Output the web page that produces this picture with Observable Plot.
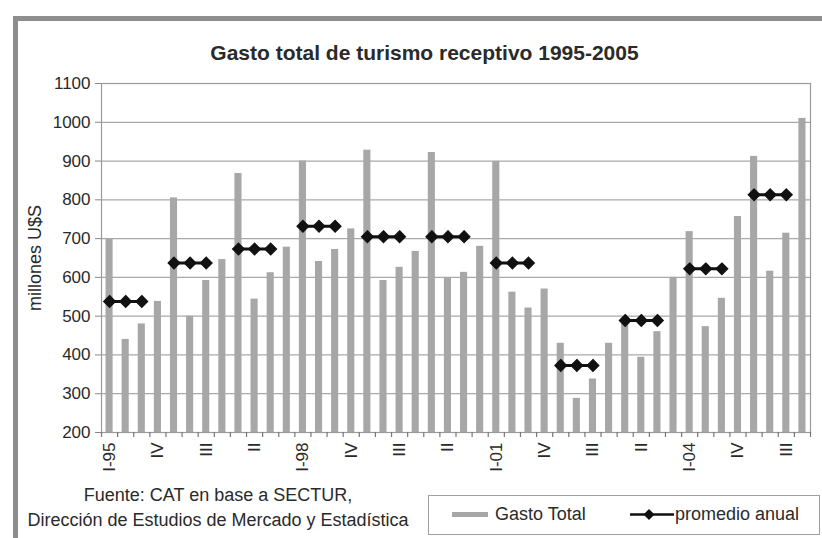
<!DOCTYPE html>
<html>
<head>
<meta charset="utf-8">
<script src="https://cdn.jsdelivr.net/npm/d3@7"></script>
<script src="https://cdn.jsdelivr.net/npm/@observablehq/plot@0.6"></script>
<style>
  html, body { margin: 0; padding: 0; background: #fff; }
  #chart { position: relative; width: 822px; height: 538px; overflow: hidden; background: #fff;
           font-family: "Liberation Sans", Arial, sans-serif; color: #2a2a2a; }
  #frame { position: absolute; left: 13px; top: 16px; width: 900px; height: 700px;
           border-left: 5px solid #8e8e8e; border-top: 5px solid #8e8e8e; box-sizing: border-box; }
  #title { position: absolute; left: 0; top: 40px; width: 822px; padding-left: 27px; box-sizing: border-box;
           text-align: center; font-weight: bold; font-size: 21px; line-height: 26px; }
  #plot { position: absolute; left: 0; top: 66px; }
  #source { position: absolute; left: 18px; top: 483px; width: 400px; text-align: center;
            font-size: 18px; line-height: 25px; }
  #legend { position: absolute; left: 428px; top: 495px; width: 392px; height: 40px; box-sizing: border-box;
            border: 1.5px solid #a0a0a0; background: #fff; font-size: 18px; }
  .lg { position: absolute; top: 0; height: 37px; line-height: 37px; white-space: nowrap; }
</style>
</head>
<body>
<div id="chart">
  <div id="frame"></div>
  <div id="title"></div>
  <div id="plot"></div>
  <div id="source"></div>
  <div id="legend"></div>
</div>
<script>
// ---- data ----
const chartTitle = "Gasto total de turismo receptivo 1995-2005";
const yLabel = "millones U$S";
const sourceLines = ["Fuente: CAT en base a SECTUR,", "Dirección de Estudios de Mercado y Estadística"];
const seriesNames = ["Gasto Total", "promedio anual"];

const years = [1995, 1996, 1997, 1998, 1999, 2000, 2001, 2002, 2003, 2004, 2005];
const quarters = ["I", "II", "III", "IV"];
const gastoTotal = [
  700, 440, 480, 538,
  805, 500, 592, 646,
  868, 544, 612, 678,
  900, 641, 672, 725,
  928, 592, 626, 667,
  922, 599, 613, 680,
  899, 562, 521, 570,
  430, 288, 338, 430,
  495, 394, 460, 600,
  718, 473, 546, 757,
  912, 616, 714, 1010
];
const promedioAnual = [538, 637, 673, 732, 705, 705, 637, 373, 489, 622, 813];
const xTickLabels = ["I-95", "IV", "III", "II", "I-98", "IV", "III", "II", "I-01", "IV", "III", "II", "I-04", "IV", "III"];
const xTickEvery = 3;
const yTicks = [200, 300, 400, 500, 600, 700, 800, 900, 1000, 1100];

// ---- derived tables ----
const bars = gastoTotal.map((v, i) => ({i, year: years[Math.floor(i / 4)], q: quarters[i % 4], v}));
const avgPts = promedioAnual.flatMap((v, k) => [0, 1, 2].map(q => ({i: k * 4 + q, year: years[k], v})));
const labelTicks = xTickLabels.map((_, k) => k * xTickEvery);
const boundaryTicks = d3.range(-0.5, gastoTotal.length, 1);

const barColor = "#a7a7a7";
const lineColor = "#111";

const chart = Plot.plot({
  width: 822,
  height: 410,
  marginLeft: 101,
  marginRight: 12,
  marginTop: 17,
  marginBottom: 44,
  style: {fontFamily: '"Liberation Sans", Arial, sans-serif', fontSize: "17px", color: "#2a2a2a", background: "transparent"},
  x: {type: "linear", domain: [-0.5, gastoTotal.length - 0.5]},
  y: {domain: [yTicks[0], yTicks[yTicks.length - 1]]},
  marks: [
    Plot.gridY(yTicks, {stroke: "#a9a9a9", strokeOpacity: 1, strokeWidth: 1.2}),
    Plot.rectY(bars, {x1: d => d.i - 0.5, x2: d => d.i + 0.5, y1: yTicks[0], y2: "v", fill: barColor, insetLeft: 4.5, insetRight: 4.5}),
    Plot.frame({stroke: "#9a9a9a", strokeWidth: 1.2}),
    Plot.axisY(yTicks, {tickSize: 6, tickPadding: 5, stroke: "#888", label: null, fontSize: 17, tickFormat: d => String(d)}),
    Plot.axisX(boundaryTicks, {tickSize: 5, tickFormat: () => "", stroke: "#777", strokeWidth: 1.2, label: null}),
    Plot.axisX(labelTicks, {tickSize: 0, tickPadding: 10, tickRotate: -90, tickFormat: d => xTickLabels[d / xTickEvery], label: null, fontSize: 17}),
    Plot.line(avgPts, {x: "i", y: "v", z: "year", stroke: lineColor, strokeWidth: 3}),
    Plot.dot(avgPts, {x: "i", y: "v", symbol: "diamond2", r: 5.3, fill: lineColor, stroke: lineColor, strokeWidth: 1.2}),
    Plot.text([yLabel], {frameAnchor: "left", dx: -66.5, rotate: -90, textAnchor: "middle", fontSize: 18, fill: "#2a2a2a"})
  ]
});
document.getElementById("plot").appendChild(chart);

document.getElementById("title").textContent = chartTitle;
document.getElementById("source").innerHTML = sourceLines.map(s => `<div>${s}</div>`).join("");

const legend = document.getElementById("legend");
legend.innerHTML = `
  <div class="lg" style="left:23px"><svg width="36" height="37" style="vertical-align:top"><rect x="0" y="16" width="36" height="5" fill="${barColor}"/></svg></div>
  <div class="lg" style="left:66px">${seriesNames[0]}</div>
  <div class="lg" style="left:201px"><svg width="44" height="37" style="vertical-align:top"><line x1="0" x2="44" y1="18.5" y2="18.5" stroke="${lineColor}" stroke-width="2.5"/><path d="M19,13 L24.5,18.5 L19,24 L13.5,18.5 Z" fill="${lineColor}"/></svg></div>
  <div class="lg" style="left:246px">${seriesNames[1]}</div>`;
</script>
</body>
</html>
